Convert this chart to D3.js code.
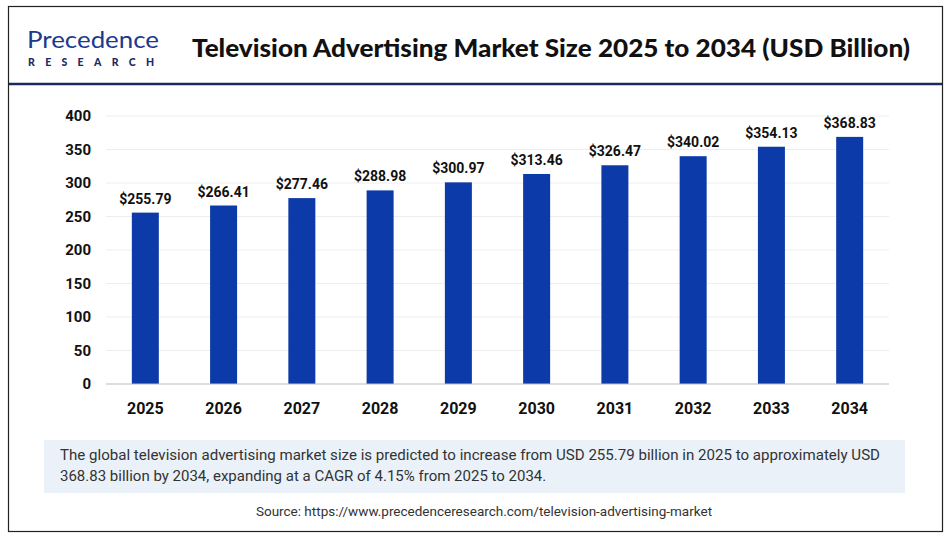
<!DOCTYPE html>
<html><head><meta charset="utf-8">
<script src="https://cdn.jsdelivr.net/npm/d3@7"></script>
<style>body{margin:0;background:#fff;font-family:Roboto,"Open Sans",sans-serif}</style>
</head><body><svg id="c" width="951" height="539"></svg>
<script>
const years=["2025","2026","2027","2028","2029","2030","2031","2032","2033","2034"];
const values=[255.79,266.41,277.46,288.98,300.97,313.46,326.47,340.02,354.13,368.83];
const yTicks=[0,50,100,150,200,250,300,350,400];
const svg=d3.select("#c");
svg.append("rect").attr("x",8.5).attr("y",6.5).attr("width",934).attr("height",525).attr("fill","#fff").attr("stroke","#222").attr("stroke-width",1.2);
svg.append("line").attr("x1",9).attr("x2",942).attr("y1",84).attr("y2",84).attr("stroke","#1f2a5c").attr("stroke-width",2.5);
// logo
svg.append("text").attr("x",27).attr("y",48).attr("font-family","Lato,sans-serif").attr("font-size",24).attr("fill","#1b3a8c").attr("textLength",132).attr("lengthAdjust","spacingAndGlyphs").text("Precedence");
svg.append("text").attr("x",28).attr("y",66).attr("font-family","Lato,sans-serif").attr("font-weight",900).attr("font-size",10.5).attr("fill","#1b2a66").attr("textLength",126).attr("lengthAdjust","spacing").text("RESEARCH");
svg.append("text").attr("x",192).attr("y",57).attr("font-family","Lato,sans-serif").attr("font-weight",900).attr("font-size",25.5).attr("fill","#111").attr("textLength",718).attr("lengthAdjust","spacingAndGlyphs").text("Television Advertising Market Size 2025 to 2034 (USD Billion)");
const x=d3.scaleBand().domain(years).range([106,889]).paddingInner(0.655).paddingOuter(0.33);
const y=d3.scaleLinear().domain([0,400]).range([384,116]);
const g=svg.append("g");
g.selectAll(".gl").data(yTicks.slice(1)).join("line").attr("x1",106).attr("x2",889).attr("y1",d=>y(d)).attr("y2",d=>y(d)).attr("stroke","#eee");
g.selectAll(".yl").data(yTicks).join("text").attr("x",91).attr("y",d=>y(d)+5).attr("text-anchor","end").attr("font-weight",700).attr("font-size",15).attr("fill","#111").text(d=>d);
g.selectAll(".b").data(values).join("rect").attr("x",(d,i)=>x(years[i])).attr("width",x.bandwidth()).attr("y",d=>y(d)).attr("height",d=>384-y(d)).attr("fill","#0d3aa9");
g.selectAll(".v").data(values).join("text").attr("x",(d,i)=>x(years[i])+x.bandwidth()/2).attr("y",d=>y(d)-9).attr("text-anchor","middle").attr("font-weight",700).attr("font-size",14).attr("fill","#111").text(d=>"$"+d.toFixed(2));
g.append("line").attr("x1",106).attr("x2",889).attr("y1",384).attr("y2",384).attr("stroke","#bbb").attr("stroke-width",1.2);
g.selectAll(".xl").data(years).join("text").attr("x",d=>x(d)+x.bandwidth()/2).attr("y",414).attr("text-anchor","middle").attr("font-weight",700).attr("font-size",16).attr("fill","#111").text(d=>d);
svg.append("rect").attr("x",44).attr("y",440).attr("width",861).attr("height",53).attr("fill","#eaf1f9");
const t=svg.append("text").attr("font-size",15).attr("fill","#333");
t.append("tspan").attr("x",60).attr("y",460).attr("textLength",820).attr("lengthAdjust","spacingAndGlyphs").text("The global television advertising market size is predicted to increase from USD 255.79 billion in 2025 to approximately USD");
t.append("tspan").attr("x",60).attr("y",481).text("368.83 billion by 2034, expanding at a CAGR of 4.15% from 2025 to 2034.");
svg.append("text").attr("x",484).attr("y",516).attr("text-anchor","middle").attr("font-size",13.5).attr("fill","#333").text("Source: https://www.precedenceresearch.com/television-advertising-market");
</script></body></html>
